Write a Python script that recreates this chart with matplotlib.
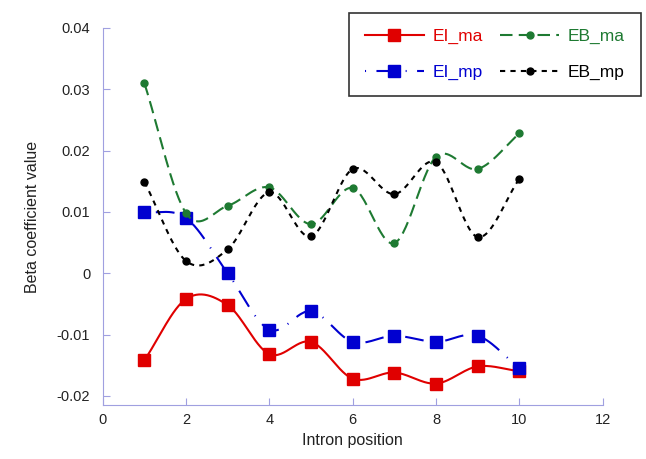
import numpy as np
import matplotlib.pyplot as plt

plt.rcParams['font.family'] = ['Liberation Sans', 'DejaVu Sans']

positions = [1, 2, 3, 4, 5, 6, 7, 8, 9, 10]
ei_ma = [-0.0142, -0.0042, -0.0052, -0.0132, -0.0112, -0.0172, -0.0162, -0.0180, -0.0152, -0.0160]
ei_mp = [0.0100, 0.0090, 0.0000, -0.0092, -0.0062, -0.0112, -0.0102, -0.0112, -0.0102, -0.0155]
eb_ma = [0.0310, 0.0098, 0.0110, 0.0140, 0.0080, 0.0139, 0.0049, 0.0190, 0.0170, 0.0228]
eb_mp = [0.0149, 0.0020, 0.0039, 0.0132, 0.0060, 0.0170, 0.0129, 0.0181, 0.0059, 0.0154]


def smooth(x, y, n=30):
    # Catmull-Rom style smoothing like a spreadsheet "smoothed line"
    x = np.asarray(x, float)
    y = np.asarray(y, float)
    px = np.concatenate([[2 * x[0] - x[1]], x, [2 * x[-1] - x[-2]]])
    py = np.concatenate([[2 * y[0] - y[1]], y, [2 * y[-1] - y[-2]]])
    xs, ys = [], []
    t = np.linspace(0, 1, n)
    for i in range(1, len(px) - 2):
        p0, p1, p2, p3 = (np.array([px[j], py[j]]) for j in range(i - 1, i + 3))
        c1 = p1 + (p2 - p0) / 6
        c2 = p2 - (p3 - p1) / 6
        pts = ((1 - t) ** 3)[:, None] * p1 + (3 * (1 - t) ** 2 * t)[:, None] * c1 \
            + (3 * (1 - t) * t ** 2)[:, None] * c2 + (t ** 3)[:, None] * p2
        xs.extend(pts[:, 0])
        ys.extend(pts[:, 1])
    return xs, ys


fig = plt.figure(figsize=(6.46, 4.59), dpi=100)
ax = fig.add_axes([0.159, 0.1176, 0.774, 0.8214])

# order chosen so the 2-column legend reads EI_ma / EB_ma on the first row
series = [
    (ei_ma, 'EI_ma', '#e00000', '-', 's', 8.5),
    (ei_mp, 'EI_mp', '#0000d0', (0, (0.5, 5, 9, 5)), 's', 8.5),
    (eb_ma, 'EB_ma', '#1e7a32', (0, (6, 3)), 'o', 5),
    (eb_mp, 'EB_mp', '#000000', (0, (2.5, 2.5)), 'o', 5),
]

handles = []
for vals, name, col, ls, mk, ms in series:
    sx, sy = smooth(positions, vals)
    ax.plot(sx, sy, color=col, linestyle=ls, linewidth=1.5)
    ax.plot(positions, vals, linestyle='none', marker=mk, markersize=ms, color=col)
    h, = ax.plot([], [], color=col, linestyle=ls, linewidth=1.5, marker=mk, markersize=ms, label=name)
    handles.append(h)

ax.set_xlim(0, 12)
ax.set_ylim(-0.0215, 0.04)
ax.set_xticks([0, 2, 4, 6, 8, 10, 12])
ax.set_yticks([-0.02, -0.01, 0, 0.01, 0.02, 0.03, 0.04])
ax.set_yticklabels(['-0.02', '-0.01', '0', '0.01', '0.02', '0.03', '0.04'])
for s in ['top', 'right']:
    ax.spines[s].set_visible(False)
for s in ['left', 'bottom']:
    ax.spines[s].set_color('#a0a0e0')
ax.tick_params(direction='in', length=5, color='#a0a0e0', labelsize=10.5, labelcolor='#222222')
ax.tick_params(axis='y', pad=9)
ax.tick_params(axis='x', pad=6)
ax.set_xlabel('Intron position', fontsize=11.5, color='#222222')
ax.set_ylabel('Beta coefficient value', fontsize=11.5, color='#222222', labelpad=12)

leg = ax.legend(handles=handles, ncol=2, loc='upper right', bbox_to_anchor=(1.076, 1.04),
                borderaxespad=0, fontsize=12.5, handlelength=3.4, frameon=True, fancybox=False,
                borderpad=0.9, labelspacing=1.2, columnspacing=1.0, handletextpad=0.5)
leg.get_frame().set_edgecolor('black')
leg.get_frame().set_linewidth(1.2)
for txt, h in zip(leg.get_texts(), handles):
    txt.set_color(h.get_color())

fig.savefig('out.png', dpi=100)
